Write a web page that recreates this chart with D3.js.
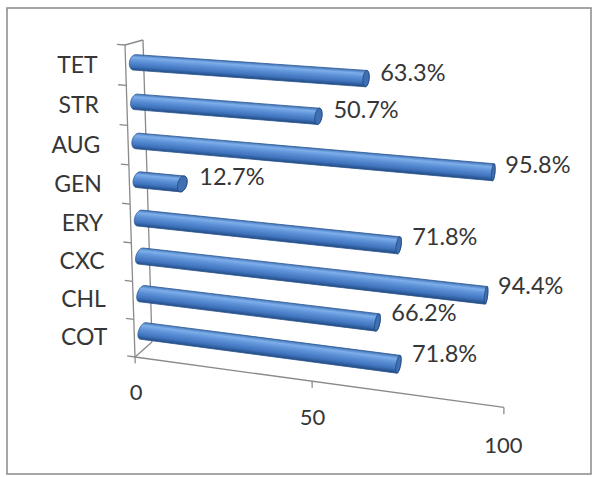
<!DOCTYPE html>
<html>
<head>
<meta charset="utf-8">
<script src="https://cdn.jsdelivr.net/npm/d3@7"></script>
<style>
  html, body { margin: 0; padding: 0; background: #ffffff; }
  svg { display: block; }
  text { font-family: Lato, "Open Sans", sans-serif; fill: #363636; }
</style>
</head>
<body>
<svg id="chart" width="593" height="477"></svg>
<script>
// Resistance rates per antibiotic (bottom to top)
const categories = ["COT", "CHL", "CXC", "ERY", "GEN", "AUG", "STR", "TET"];
const values = [71.8, 66.2, 94.4, 71.8, 12.7, 95.8, 50.7, 63.3];
const valueTicks = [0, 50, 100];
const valueTickLabels = ["0", "50", "100"];

const svg = d3.select("#chart");
const nCat = categories.length;

// Scales into the 3D plot box: value along v, category along c, depth along d (0 front, 1 back)
const xv = d3.scaleLinear().domain([0, 100]).range([0, 100]);
const yc = d3.scaleBand().domain(categories).range([0, nCat]).padding(0);

// Perspective set-up: the screen corners of the left wall (v = 0) and two points of the floor's front edge
const wallQuad = [[135, 357], [125, 45], [143, 40], [152, 342]]; // (c0,d0) (c1,d0) (c1,d1) (c0,d1)
const floorEdge = [[50, 312, 382], [100, 504, 407]];

// homography of the unit square (u = c/nCat, w = d) onto the wall quad
function squareToQuad(q) {
  const [x0, y0] = q[0], [x1, y1] = q[1], [x2, y2] = q[2], [x3, y3] = q[3];
  const dx1 = x1 - x2, dx2 = x3 - x2, dx3 = x0 - x1 + x2 - x3;
  const dy1 = y1 - y2, dy2 = y3 - y2, dy3 = y0 - y1 + y2 - y3;
  const den = dx1 * dy2 - dx2 * dy1;
  const g = (dx3 * dy2 - dx2 * dy3) / den;
  const h = (dx1 * dy3 - dx3 * dy1) / den;
  return {
    a: x1 - x0 + g * x1, b: x3 - x0 + h * x3, c: x0,
    d: y1 - y0 + g * y1, e: y3 - y0 + h * y3, f: y0,
    g: g, h: h
  };
}
const Hm = squareToQuad(wallQuad);

// homogeneous column for the value direction, least squares over the floor edge points
function solveValueColumn() {
  const [x0, y0] = wallQuad[0];
  const M = [[0, 0, 0], [0, 0, 0], [0, 0, 0]], rhs = [0, 0, 0];
  const add = (r, b) => {
    for (let i = 0; i < 3; i++) {
      rhs[i] += r[i] * b;
      for (let j = 0; j < 3; j++) M[i][j] += r[i] * r[j];
    }
  };
  floorEdge.forEach(([t, x, y]) => {
    add([t, 0, -x * t], x - x0);
    add([0, t, -y * t], y - y0);
  });
  const det = m => m[0][0] * (m[1][1] * m[2][2] - m[1][2] * m[2][1])
    - m[0][1] * (m[1][0] * m[2][2] - m[1][2] * m[2][0])
    + m[0][2] * (m[1][0] * m[2][1] - m[1][1] * m[2][0]);
  const D = det(M);
  return [0, 1, 2].map(k => {
    const mk = M.map((row, i) => row.map((val, j) => (j === k ? rhs[i] : val)));
    return det(mk) / D;
  });
}
const pv = solveValueColumn();

function proj(v, c, d) {
  const u = c / nCat;
  const X = Hm.a * u + Hm.b * d + Hm.c + pv[0] * v;
  const Y = Hm.d * u + Hm.e * d + Hm.f + pv[1] * v;
  const Wh = Hm.g * u + Hm.h * d + 1 + pv[2] * v;
  return [X / Wh, Y / Wh];
}

// outer chart border
svg.append("rect")
  .attr("x", 7).attr("y", 8).attr("width", 584).attr("height", 466)
  .attr("fill", "none").attr("stroke", "#8f8f8f").attr("stroke-width", 1.6);

const axisColor = "#8a8a8a";
const gAxes = svg.append("g").attr("stroke", axisColor).attr("stroke-width", 1.3).attr("fill", "none");
const seg = (p, q) => gAxes.append("line")
  .attr("x1", p[0]).attr("y1", p[1]).attr("x2", q[0]).attr("y2", q[1]);

// left wall outline and floor front edge
seg(proj(0, 0, 0), proj(0, nCat, 0));
seg(proj(0, 0, 1), proj(0, nCat, 1));
seg(proj(0, nCat, 0), proj(0, nCat, 1));
seg(proj(0, 0, 0), proj(0, 0, 1));
seg(proj(xv(0), 0, 0), proj(xv(100), 0, 0));

// category axis ticks
d3.range(nCat + 1).forEach(k => seg(proj(0, k, 0), proj(-2.3, k, 0)));
// value axis ticks
valueTicks.forEach(t => seg(proj(xv(t), 0, 0), proj(xv(t), -0.17, 0)));

// value axis labels
svg.append("g").selectAll("text").data(valueTicks).join("text")
  .attr("x", d => proj(xv(d), -0.92, 0)[0])
  .attr("y", d => proj(xv(d), -0.92, 0)[1])
  .attr("text-anchor", "middle")
  .attr("dominant-baseline", "central")
  .attr("font-size", 22)
  .text((d, i) => valueTickLabels[i]);

// category labels
svg.append("g").selectAll("text").data(categories).join("text")
  .attr("x", d => proj(-8, yc(d) + 0.5, 0)[0])
  .attr("y", d => proj(-8, yc(d) + 0.5, 0)[1] + 1)
  .attr("text-anchor", "end")
  .attr("dominant-baseline", "central")
  .attr("font-size", 23)
  .text(d => d);

// cylinders
const rc = 0.19, rd = 0.3, depth0 = 0.5;
const thetas = d3.range(0, 2 * Math.PI, Math.PI / 36);
const defs = svg.append("defs");
const gBars = svg.append("g");

categories.forEach((cat, i) => {
  const c0 = yc(cat) + 0.5;
  const v1 = xv(values[i]);
  const ring = v => thetas.map(t => proj(v, c0 + rc * Math.cos(t), depth0 + rd * Math.sin(t)));
  const startRing = ring(0), endRing = ring(v1);
  const hull = d3.polygonHull(startRing.concat(endRing));

  // gradient across the bar, perpendicular to its screen direction
  const a = proj(0, c0, depth0), b = proj(v1, c0, depth0);
  let nx = -(b[1] - a[1]), ny = b[0] - a[0];
  const len = Math.hypot(nx, ny);
  nx /= len; ny /= len;
  if (ny > 0) { nx = -nx; ny = -ny; }
  const mid = proj(v1 / 2, c0, depth0);
  const pr = hull.map(p => (p[0] - mid[0]) * nx + (p[1] - mid[1]) * ny);
  const hi = d3.max(pr), lo = d3.min(pr);
  const grad = defs.append("linearGradient")
    .attr("id", "bar" + i)
    .attr("gradientUnits", "userSpaceOnUse")
    .attr("x1", mid[0] + nx * hi).attr("y1", mid[1] + ny * hi)
    .attr("x2", mid[0] + nx * lo).attr("y2", mid[1] + ny * lo);
  [["0", "#3f72b6"], ["0.2", "#7eaeea"], ["0.42", "#5e93d9"], ["0.75", "#3f74be"], ["1", "#21497f"]]
    .forEach(([o, col]) => grad.append("stop").attr("offset", o).attr("stop-color", col));

  gBars.append("path")
    .attr("d", "M" + hull.map(p => p.join(",")).join("L") + "Z")
    .attr("fill", "url(#bar" + i + ")")
    .attr("stroke", "#2a5591").attr("stroke-width", 0.8);

  gBars.append("path")
    .attr("d", "M" + endRing.map(p => p.join(",")).join("L") + "Z")
    .attr("fill", "#3f70b3")
    .attr("stroke", "#22477c").attr("stroke-width", 0.9);
});

// data labels
svg.append("g").selectAll("text").data(categories).join("text")
  .attr("x", (d, i) => proj(xv(values[i]), yc(d) + 0.5, 1)[0] + 9)
  .attr("y", (d, i) => proj(xv(values[i]), yc(d) + 0.5, 1)[1] - 3)
  .attr("dominant-baseline", "central")
  .attr("font-size", 23.5)
  .text((d, i) => d3.format(".1f")(values[i]) + "%");
</script>
</body>
</html>
